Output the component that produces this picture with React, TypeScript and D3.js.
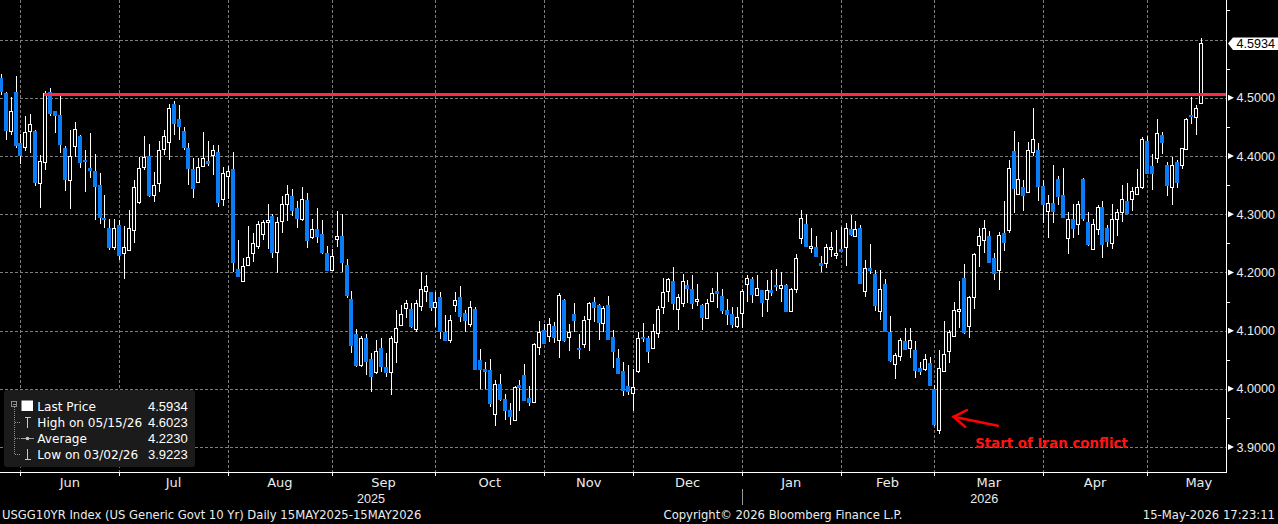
import { useMemo } from 'react';
import * as d3 from 'd3';

const W = 1278;
const H = 524;

// sessions shown: weekdays between these two dates, minus bond market holidays
const firstSession = '2025-05-23';
const lastSession = '2026-05-15';
const holidays = [
  '2025-05-26', '2025-06-19', '2025-07-04', '2025-09-01', '2025-10-13', '2025-11-11',
  '2025-11-27', '2025-12-25', '2026-01-01', '2026-01-19', '2026-02-16', '2026-04-03',
];

// daily OHLC of the US 10y generic yield
const open = [
  4.534, 4.508, 4.443, 4.510, 4.422, 4.416, 4.443, 4.443, 4.354, 4.390,
  4.510, 4.477, 4.470, 4.414, 4.359, 4.417, 4.434, 4.393, 4.380, 4.374,
  4.350, 4.294, 4.277, 4.244, 4.281, 4.233, 4.239, 4.273, 4.321, 4.381,
  4.400, 4.333, 4.354, 4.412, 4.424, 4.489, 4.463, 4.443, 4.414, 4.377,
  4.356, 4.383, 4.391, 4.401, 4.407, 4.326, 4.366, 4.378, 4.206, 4.186,
  4.213, 4.234, 4.246, 4.265, 4.287, 4.297, 4.234, 4.287, 4.317, 4.332,
  4.310, 4.292, 4.325, 4.261, 4.274, 4.266, 4.233, 4.205, 4.257, 4.262,
  4.212, 4.154, 4.094, 4.041, 4.087, 4.051, 4.029, 4.071, 4.037, 4.030,
  4.081, 4.109, 4.138, 4.137, 4.103, 4.141, 4.167, 4.166, 4.141, 4.157,
  4.098, 4.085, 4.143, 4.157, 4.130, 4.111, 4.137, 4.049, 4.034, 4.032,
  3.958, 4.009, 3.982, 3.964, 3.946, 4.006, 4.023, 3.984, 3.977, 4.072,
  4.101, 4.091, 4.108, 4.084, 4.152, 4.088, 4.128, 4.070, 4.078, 4.121,
  4.150, 4.144, 4.113, 4.144, 4.089, 4.053, 4.030, 4.005, 3.993, 4.030,
  4.089, 4.087, 4.070, 4.096, 4.141, 4.167, 4.185, 4.136, 4.147, 4.179,
  4.171, 4.151, 4.144, 4.122, 4.151, 4.168, 4.159, 4.135, 4.128, 4.108,
  4.131, 4.180, 4.188, 4.162, 4.170, 4.154, 4.170, 4.178, 4.174, 4.178,
  4.134, 4.170, 4.258, 4.283, 4.241, 4.243, 4.217, 4.216, 4.239, 4.231,
  4.240, 4.244, 4.274, 4.262, 4.276, 4.167, 4.207, 4.198, 4.134, 4.181,
  4.097, 4.044, 4.056, 4.082, 4.070, 4.067, 4.035, 4.034, 4.045, 3.999,
  3.929, 4.030, 4.064, 4.092, 4.135, 4.190, 4.107, 4.157, 4.246, 4.257,
  4.262, 4.225, 4.205, 4.268, 4.274, 4.408, 4.334, 4.346, 4.338, 4.406,
  4.411, 4.348, 4.306, 4.320, 4.360, 4.333, 4.259, 4.292, 4.283, 4.360,
  4.286, 4.241, 4.274, 4.312, 4.276, 4.250, 4.291, 4.304, 4.323, 4.327,
  4.334, 4.347, 4.426, 4.383, 4.396, 4.436, 4.384, 4.347, 4.389, 4.383,
  4.411, 4.470, 4.466, 4.491,
];
const high = [
  4.541, 4.510, 4.501, 4.537, 4.438, 4.469, 4.472, 4.445, 4.401, 4.512,
  4.517, 4.477, 4.505, 4.418, 4.445, 4.459, 4.436, 4.410, 4.440, 4.403,
  4.370, 4.333, 4.291, 4.291, 4.290, 4.279, 4.307, 4.359, 4.399, 4.434,
  4.420, 4.372, 4.426, 4.445, 4.489, 4.495, 4.487, 4.450, 4.423, 4.396,
  4.396, 4.442, 4.426, 4.419, 4.419, 4.381, 4.383, 4.407, 4.255, 4.224,
  4.279, 4.267, 4.288, 4.290, 4.317, 4.301, 4.296, 4.331, 4.351, 4.344,
  4.323, 4.346, 4.337, 4.292, 4.310, 4.290, 4.245, 4.241, 4.305, 4.300,
  4.223, 4.168, 4.102, 4.091, 4.094, 4.062, 4.084, 4.087, 4.061, 4.091,
  4.136, 4.144, 4.152, 4.147, 4.152, 4.200, 4.195, 4.166, 4.166, 4.166,
  4.127, 4.127, 4.166, 4.176, 4.135, 4.151, 4.141, 4.068, 4.046, 4.051,
  4.016, 4.025, 3.991, 3.975, 4.005, 4.015, 4.042, 4.005, 4.079, 4.116,
  4.111, 4.121, 4.115, 4.164, 4.154, 4.111, 4.147, 4.094, 4.125, 4.150,
  4.157, 4.146, 4.142, 4.159, 4.101, 4.068, 4.046, 4.041, 4.034, 4.097,
  4.114, 4.090, 4.111, 4.143, 4.190, 4.190, 4.209, 4.163, 4.198, 4.187,
  4.195, 4.181, 4.145, 4.154, 4.174, 4.200, 4.171, 4.154, 4.141, 4.141,
  4.171, 4.195, 4.193, 4.195, 4.170, 4.187, 4.204, 4.206, 4.201, 4.181,
  4.174, 4.231, 4.307, 4.300, 4.276, 4.262, 4.228, 4.249, 4.269, 4.273,
  4.278, 4.285, 4.298, 4.288, 4.281, 4.222, 4.249, 4.204, 4.205, 4.188,
  4.125, 4.062, 4.088, 4.104, 4.104, 4.082, 4.046, 4.060, 4.054, 4.006,
  4.067, 4.117, 4.101, 4.149, 4.185, 4.214, 4.159, 4.233, 4.276, 4.290,
  4.271, 4.234, 4.270, 4.323, 4.393, 4.443, 4.424, 4.359, 4.424, 4.482,
  4.423, 4.359, 4.333, 4.384, 4.365, 4.379, 4.304, 4.318, 4.323, 4.363,
  4.303, 4.292, 4.316, 4.323, 4.281, 4.317, 4.309, 4.350, 4.353, 4.347,
  4.377, 4.433, 4.434, 4.403, 4.463, 4.441, 4.390, 4.399, 4.393, 4.414,
  4.465, 4.502, 4.487, 4.6023,
];
const low = [
  4.505, 4.427, 4.436, 4.414, 4.386, 4.409, 4.405, 4.348, 4.311, 4.376,
  4.469, 4.440, 4.405, 4.340, 4.309, 4.399, 4.379, 4.339, 4.362, 4.290,
  4.284, 4.276, 4.238, 4.238, 4.221, 4.188, 4.238, 4.250, 4.318, 4.376,
  4.330, 4.321, 4.339, 4.402, 4.393, 4.436, 4.427, 4.410, 4.350, 4.328,
  4.354, 4.381, 4.383, 4.367, 4.313, 4.314, 4.326, 4.201, 4.192, 4.184,
  4.211, 4.218, 4.241, 4.256, 4.241, 4.225, 4.199, 4.268, 4.288, 4.297,
  4.276, 4.288, 4.242, 4.258, 4.251, 4.231, 4.203, 4.204, 4.244, 4.201,
  4.156, 4.062, 4.038, 4.038, 4.024, 3.995, 4.025, 4.029, 4.021, 3.990,
  4.044, 4.108, 4.122, 4.105, 4.098, 4.134, 4.150, 4.134, 4.107, 4.085,
  4.082, 4.079, 4.132, 4.115, 4.097, 4.107, 4.032, 4.000, 4.000, 3.969,
  3.937, 3.980, 3.946, 3.938, 3.946, 3.962, 3.979, 3.970, 3.976, 4.058,
  4.077, 4.081, 4.079, 4.053, 4.080, 4.065, 4.097, 4.052, 4.071, 4.065,
  4.115, 4.084, 4.098, 4.084, 4.036, 4.025, 3.988, 3.990, 3.962, 4.028,
  4.080, 4.045, 4.069, 4.087, 4.128, 4.150, 4.136, 4.101, 4.141, 4.148,
  4.137, 4.143, 4.101, 4.121, 4.149, 4.139, 4.128, 4.110, 4.105, 4.105,
  4.105, 4.150, 4.148, 4.161, 4.124, 4.132, 4.159, 4.168, 4.149, 4.132,
  4.132, 4.164, 4.249, 4.243, 4.233, 4.226, 4.200, 4.207, 4.227, 4.223,
  4.235, 4.211, 4.262, 4.261, 4.181, 4.158, 4.198, 4.134, 4.119, 4.098,
  4.047, 4.017, 4.048, 4.066, 4.053, 4.018, 4.024, 4.031, 4.005, 3.936,
  3.9223, 4.030, 4.045, 4.090, 4.104, 4.095, 4.088, 4.137, 4.210, 4.234,
  4.216, 4.187, 4.169, 4.237, 4.267, 4.302, 4.333, 4.306, 4.337, 4.400,
  4.323, 4.285, 4.259, 4.285, 4.316, 4.293, 4.231, 4.259, 4.265, 4.289,
  4.245, 4.238, 4.264, 4.225, 4.244, 4.240, 4.263, 4.287, 4.300, 4.306,
  4.333, 4.344, 4.369, 4.341, 4.388, 4.403, 4.332, 4.316, 4.345, 4.378,
  4.410, 4.455, 4.436, 4.489,
];
const close = [
  4.510, 4.443, 4.477, 4.417, 4.400, 4.442, 4.455, 4.354, 4.391, 4.508,
  4.472, 4.469, 4.419, 4.359, 4.400, 4.446, 4.388, 4.390, 4.375, 4.347,
  4.293, 4.290, 4.242, 4.277, 4.228, 4.243, 4.277, 4.347, 4.380, 4.399,
  4.332, 4.350, 4.410, 4.434, 4.482, 4.455, 4.450, 4.414, 4.377, 4.344,
  4.381, 4.396, 4.387, 4.410, 4.320, 4.370, 4.374, 4.216, 4.193, 4.211,
  4.227, 4.251, 4.283, 4.286, 4.290, 4.233, 4.286, 4.317, 4.334, 4.306,
  4.291, 4.326, 4.254, 4.275, 4.261, 4.234, 4.203, 4.229, 4.262, 4.216,
  4.159, 4.074, 4.039, 4.088, 4.046, 4.021, 4.065, 4.038, 4.028, 4.088,
  4.105, 4.128, 4.147, 4.107, 4.147, 4.171, 4.176, 4.139, 4.150, 4.098,
  4.083, 4.119, 4.152, 4.124, 4.116, 4.140, 4.032, 4.032, 4.029, 3.974,
  4.009, 3.981, 3.962, 3.951, 4.003, 4.002, 3.979, 3.976, 4.077, 4.098,
  4.077, 4.111, 4.087, 4.161, 4.082, 4.097, 4.117, 4.067, 4.119, 4.148,
  4.139, 4.113, 4.139, 4.084, 4.063, 4.025, 3.997, 3.995, 4.004, 4.087,
  4.086, 4.064, 4.099, 4.137, 4.166, 4.188, 4.146, 4.157, 4.185, 4.172,
  4.145, 4.154, 4.122, 4.148, 4.164, 4.163, 4.133, 4.127, 4.110, 4.123,
  4.168, 4.191, 4.162, 4.174, 4.148, 4.169, 4.165, 4.175, 4.179, 4.132,
  4.171, 4.224, 4.293, 4.243, 4.245, 4.226, 4.211, 4.244, 4.243, 4.234,
  4.235, 4.277, 4.264, 4.274, 4.181, 4.207, 4.202, 4.143, 4.172, 4.098,
  4.048, 4.059, 4.084, 4.067, 4.084, 4.031, 4.029, 4.052, 4.005, 3.938,
  4.035, 4.060, 4.097, 4.136, 4.138, 4.096, 4.157, 4.231, 4.262, 4.277,
  4.216, 4.197, 4.265, 4.250, 4.380, 4.343, 4.360, 4.332, 4.411, 4.429,
  4.347, 4.316, 4.319, 4.304, 4.330, 4.293, 4.291, 4.275, 4.317, 4.292,
  4.247, 4.284, 4.312, 4.248, 4.252, 4.291, 4.303, 4.326, 4.301, 4.340,
  4.346, 4.430, 4.369, 4.369, 4.439, 4.423, 4.348, 4.385, 4.354, 4.413,
  4.463, 4.467, 4.482, 4.5934,
];

const averageValue = 4.223;
const yTicks = [3.9, 4.0, 4.1, 4.2, 4.3, 4.4, 4.5, 4.6];
const yMinorTicks = [3.95, 4.05, 4.15, 4.25, 4.35, 4.45, 4.55, 4.65];
const monthLabels = ['Jun', 'Jul', 'Aug', 'Sep', 'Oct', 'Nov', 'Dec', 'Jan', 'Feb', 'Mar', 'Apr', 'May'];
const yearLabels = ['2025', '2026'];

// horizontal resistance line and the note on the March low
const levelValue = 4.5055;
const levelStart = '2025-06-06';
const noteDate = '2026-03-02';
const noteValue = 3.952;
const noteText = 'Start of Iran conflict';

const titleText = 'USGG10YR Index (US Generic Govt 10 Yr) Daily 15MAY2025-15MAY2026';
const copyrightText = 'Copyright\u00a9 2026 Bloomberg Finance L.P.';
const stampText = '15-May-2026 17:23:11';

const TXT = '"DejaVu Sans", sans-serif';
const NUM = '"Liberation Sans", Arial, sans-serif';
const BLUE = '#0b7cf5';
const GRID = '#7c7c7c';

const plotRight = 1226.5;
const plotBottom = 472.5;

export default function App() {
  const fmt = d3.utcFormat('%Y-%m-%d');
  const dates = useMemo(() => {
    const off = new Set(holidays);
    const start = d3.utcParse('%Y-%m-%d')(firstSession)!;
    const end = d3.utcDay.offset(d3.utcParse('%Y-%m-%d')(lastSession)!, 1);
    return d3.utcDays(start, end)
      .filter((d) => d.getUTCDay() !== 0 && d.getUTCDay() !== 6 && !off.has(fmt(d)))
      .map(fmt);
  }, []);

  const x = d3.scaleBand<string>().domain(dates).range([-1.77, 1203.77]);
  const bw = x.bandwidth();
  const cx = (d: string) => (x(d) ?? 0) + bw / 2;
  const y = d3.scaleLinear().domain([3.856, 4.668]).range([472.7, 0]);

  // month boundaries: gridline sits on the last session of the previous month
  const monthTicks: string[] = [];
  for (let i = 0; i < dates.length - 1; i++) {
    if (dates[i].slice(0, 7) !== dates[i + 1].slice(0, 7)) monthTicks.push(dates[i]);
  }
  const tickX = monthTicks.map((d) => cx(d));
  const step = x.step();
  const yearBreak = tickX[monthTicks.findIndex((d) => d.slice(5, 7) === '12')];

  const lastIdx = close.length - 1;
  const lastVal = close[lastIdx];
  const hiIdx = d3.maxIndex(high);
  const loIdx = d3.minIndex(low);
  const shortDate = (s: string) => d3.utcFormat('%m/%d/%y')(d3.utcParse('%Y-%m-%d')(s)!);

  const legendRows = [
    { label: 'Last Price', value: lastVal },
    { label: `High on ${shortDate(dates[hiIdx])}`, value: high[hiIdx] },
    { label: 'Average', value: averageValue },
    { label: `Low on ${shortDate(dates[loIdx])}`, value: low[loIdx] },
  ];

  const tagY = y(lastVal);
  const crisp = (v: number) => Math.round(v) + 0.5;

  const tipX = cx(noteDate) + 14;
  const tipY = y(noteValue);

  return (
    <div style={{ position: 'fixed', left: 0, top: 0, width: W, height: H, background: '#000' }}>
      <svg width={W} height={H} style={{ display: 'block' }}>
        <rect width={W} height={H} fill="#000" />

        {/* grid */}
        <g stroke={GRID} strokeWidth={1} strokeDasharray="3,2" shapeRendering="crispEdges">
          {yTicks.map((t) => (
            <line key={t} x1={0} x2={plotRight} y1={crisp(y(t))} y2={crisp(y(t))} />
          ))}
          {tickX.map((tx, i) => (
            <line key={i} x1={crisp(tx)} x2={crisp(tx)} y1={0} y2={plotBottom} />
          ))}
        </g>

        {/* candles */}
        <g shapeRendering="crispEdges">
          {dates.map((d, i) => {
            const px = Math.round(cx(d));
            const up = close[i] >= open[i];
            const top = y(Math.max(open[i], close[i]));
            const bot = y(Math.min(open[i], close[i]));
            const h = Math.max(1, bot - top);
            return (
              <g key={d}>
                <line x1={px + 0.5} x2={px + 0.5} y1={y(high[i])} y2={y(low[i])} stroke="#fff" strokeWidth={1} />
                {up ? (
                  <rect x={px - 1.5} y={Math.round(top) + 0.5} width={3} height={Math.max(1, Math.round(h))} fill="#000" stroke="#fff" strokeWidth={1} />
                ) : (
                  <rect x={px - 2} y={top} width={4} height={h} fill={BLUE} />
                )}
              </g>
            );
          })}
        </g>

        {/* resistance level */}
        <line x1={cx(levelStart) - 1} x2={plotRight} y1={y(levelValue)} y2={y(levelValue)} stroke="#ff2b46" strokeWidth={3} />

        {/* annotation */}
        <g stroke="#ff0000" strokeWidth={2.5} strokeLinecap="round" fill="none">
          <line x1={tipX + 44.4} y1={tipY + 9} x2={tipX} y2={tipY} />
          <polyline points={`${tipX + 13.4},${tipY - 6.7} ${tipX},${tipY} ${tipX + 11.7},${tipY + 10}`} />
        </g>
        <text x={tipX + 21.7} y={tipY + 31.6} fill="#ff1414" fontFamily={TXT} fontWeight="bold" fontSize={13.4}>
          {noteText}
        </text>

        {/* axes */}
        <g stroke="#fff" strokeWidth={1} shapeRendering="crispEdges">
          <line x1={plotRight} x2={plotRight} y1={0} y2={plotBottom} />
          <line x1={0} x2={plotRight} y1={plotBottom} y2={plotBottom} />
          {tickX.map((tx, i) => (
            <line key={i} x1={crisp(tx)} x2={crisp(tx)} y1={plotBottom} y2={plotBottom + 3.5} />
          ))}
          {yMinorTicks.map((t) => (
            <line key={t} x1={plotRight} x2={plotRight + 3.5} y1={crisp(y(t))} y2={crisp(y(t))} />
          ))}
        </g>

        {/* right axis labels */}
        {yTicks
          .filter((t) => Math.abs(y(t) - tagY) > 10)
          .map((t) => (
            <g key={t}>
              <path d={`M${plotRight + 1.5},${y(t) - 3} L${plotRight + 1.5},${y(t) + 3} L${plotRight + 7.5},${y(t)} Z`} fill="#fff" />
              <text x={1236.5} y={y(t) + 4.6} fill="#ececec" fontFamily={NUM} fontSize={12.6}>
                {t.toFixed(4)}
              </text>
            </g>
          ))}

        {/* last price tag */}
        <path
          d={`M${plotRight + 1.5},${tagY} L${1233},${tagY - 6} L${W},${tagY - 6} L${W},${tagY + 6.5} L${1233},${tagY + 6.5} Z`}
          fill="#fff"
        />
        <text x={1236.5} y={tagY + 4.6} fill="#000" fontFamily={NUM} fontSize={12.6}>
          {lastVal.toFixed(4)}
        </text>

        {/* month and year labels */}
        {monthLabels.map((m, i) => {
          const a = tickX[i];
          const b = i + 1 < tickX.length ? tickX[i + 1] : a + step * 21;
          return (
            <text key={m + i} x={(a + b) / 2} y={486.8} textAnchor="middle" fill="#ececec" fontFamily={TXT} fontSize={13}>
              {m}
            </text>
          );
        })}
        <text x={yearBreak / 2} y={502.5} textAnchor="middle" fill="#ececec" fontFamily={NUM} fontSize={12.6}>
          {yearLabels[0]}
        </text>
        <text x={(yearBreak + plotRight) / 2} y={502.5} textAnchor="middle" fill="#ececec" fontFamily={NUM} fontSize={12.6}>
          {yearLabels[1]}
        </text>
        <line x1={crisp(yearBreak)} x2={crisp(yearBreak)} y1={489} y2={505} stroke="#9a9a9a" strokeWidth={1} shapeRendering="crispEdges" />

        {/* footer */}
        <text x={2} y={518.6} fill="#ececec" fontFamily={TXT} fontSize={11.6}>
          {titleText}
        </text>
        <text x={783} y={518.6} textAnchor="middle" fill="#ececec" fontFamily={TXT} fontSize={11.6}>
          {copyrightText}
        </text>
        <text x={1275} y={518.6} textAnchor="end" fill="#ececec" fontFamily={TXT} fontSize={11.6}>
          {stampText}
        </text>

        {/* legend */}
        <g>
          <rect x={4} y={390} width={191} height={77} rx={3} fill="#1b1b1b" />
          <g stroke="#8c8c8c" strokeWidth={1} fill="none" shapeRendering="crispEdges">
            <rect x={11.5} y={401.5} width={5} height={5} />
            <line x1={12.5} x2={16} y1={404.5} y2={404.5} />
            <line x1={14.5} x2={14.5} y1={407} y2={454} strokeDasharray="1,1" />
            {[1, 2, 3].map((r) => (
              <line key={r} x1={14.5} x2={21} y1={406.5 + r * 16} y2={406.5 + r * 16} strokeDasharray="1,1" />
            ))}
          </g>
          <rect x={21.5} y={400.5} width={11.5} height={10.5} fill="#fff" />
          <g stroke="#c8c8c8" strokeWidth={1} fill="none" shapeRendering="crispEdges">
            <line x1={27.5} x2={27.5} y1={417} y2={428} />
            <line x1={25} x2={31} y1={417.5} y2={417.5} />
            <line x1={21} x2={34} y1={438.5} y2={438.5} stroke="#9a9a9a" />
            <line x1={27.5} x2={27.5} y1={449} y2={459} />
            <line x1={25} x2={31} y1={459.5} y2={459.5} />
          </g>
          <circle cx={27.5} cy={438.5} r={1.8} fill="#c8c8c8" />
          {legendRows.map((r, i) => (
            <g key={r.label}>
              <text x={37.3} y={410.8 + i * 16} fill="#fff" fontFamily={TXT} fontSize={12.1}>
                {r.label}
              </text>
              <text x={187.7} y={410.8 + i * 16} textAnchor="end" fill="#fff" fontFamily={NUM} fontSize={13}>
                {r.value.toFixed(4)}
              </text>
            </g>
          ))}
        </g>
      </svg>
    </div>
  );
}
